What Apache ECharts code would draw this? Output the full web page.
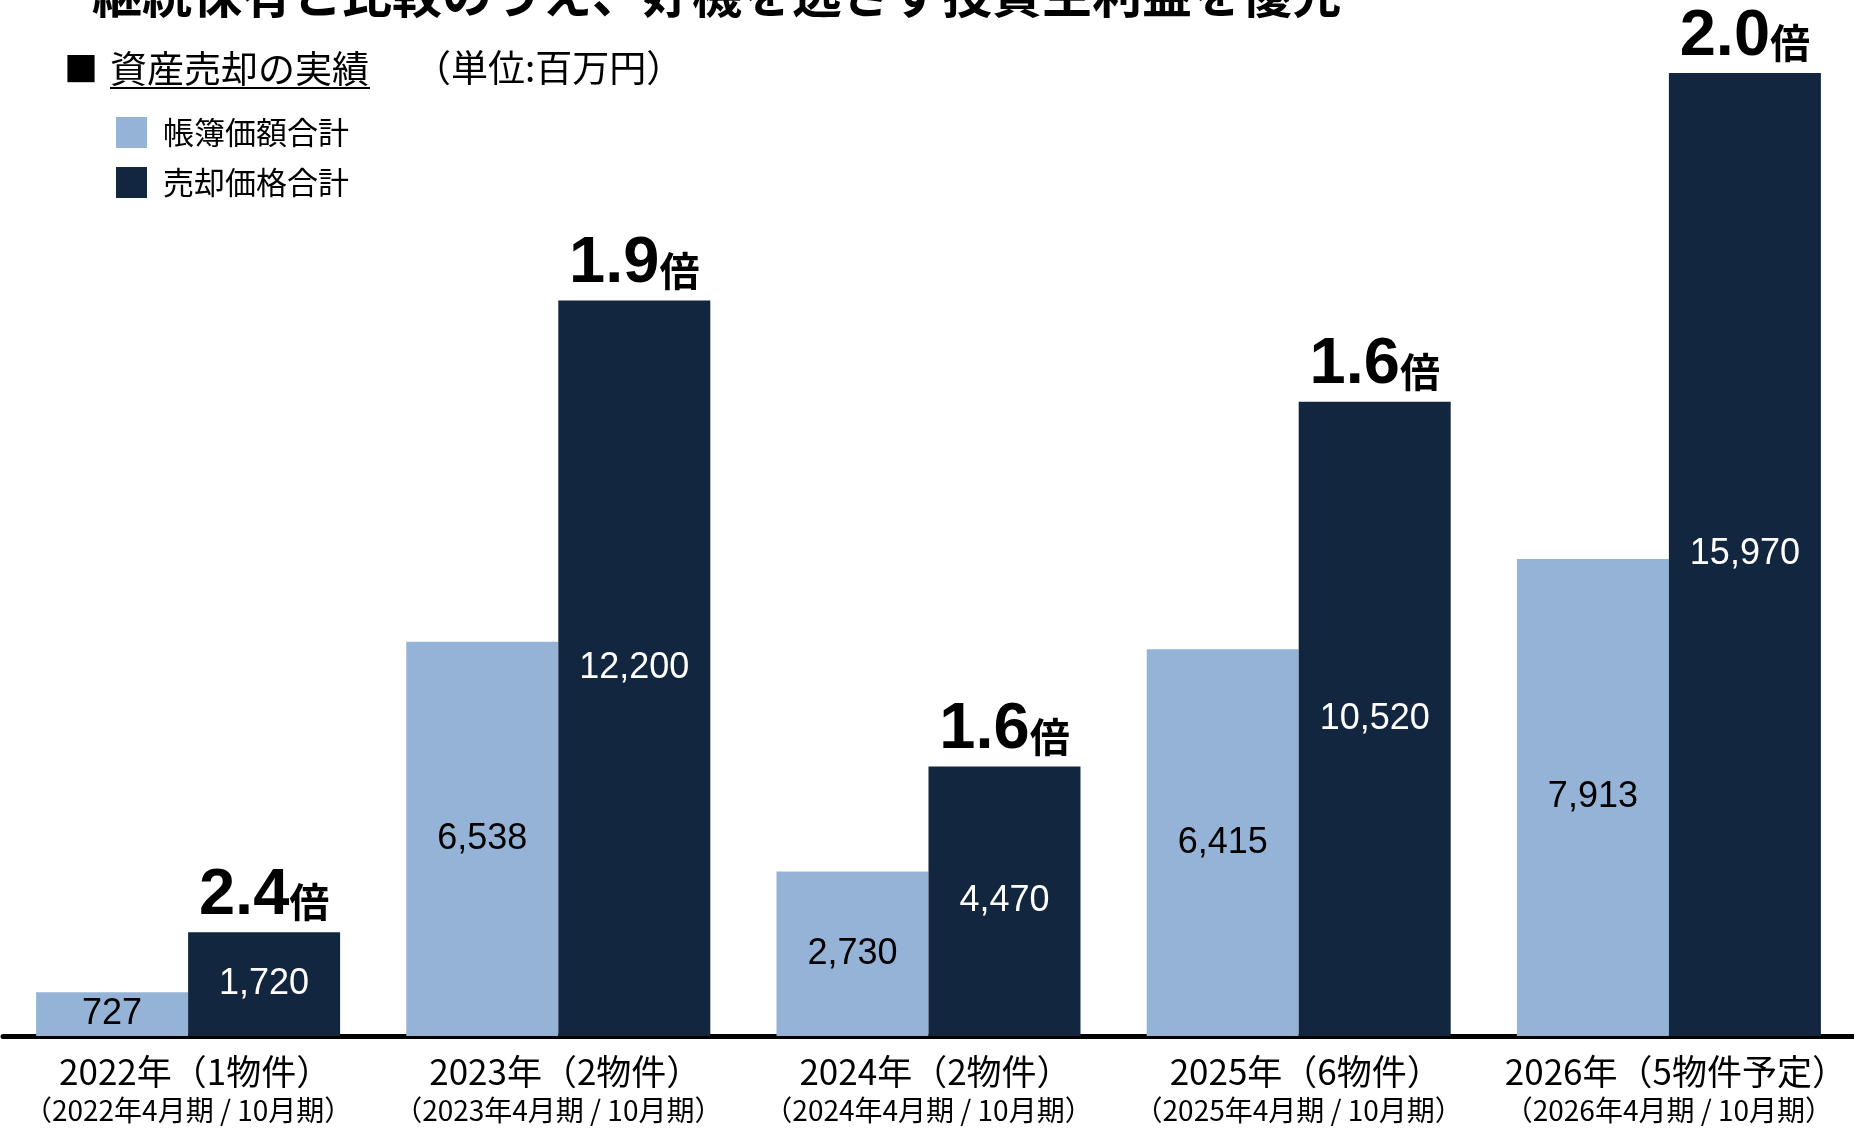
<!DOCTYPE html>
<html>
<head>
<meta charset="utf-8">
<title>資産売却の実績</title>
<script src="https://cdn.jsdelivr.net/npm/echarts@6/dist/echarts.min.js"></script>
<style>
  html, body { margin: 0; padding: 0; background: #ffffff; }
  #chart { width: 1854px; height: 1129px; }
</style>
</head>
<body>
<div id="chart"></div>
<script>
// Asset sales track record (unit: million yen)
const yearLabels = ['2022年（1物件）', '2023年（2物件）', '2024年（2物件）', '2025年（6物件）', '2026年（5物件予定）'];
const periodLabels = ['（2022年4月期 / 10月期）', '（2023年4月期 / 10月期）', '（2024年4月期 / 10月期）', '（2025年4月期 / 10月期）', '（2026年4月期 / 10月期）'];
const bookValues = [727, 6538, 2730, 6415, 7913];      // 帳簿価額合計
const saleValues = [1720, 12200, 4470, 10520, 15970];  // 売却価格合計
const multiples = ['2.4', '1.9', '1.6', '1.6', '2.0']; // 売却価格 / 帳簿価額

const LIGHT = '#95B3D7';
const DARK = '#12263F';
const LATIN = '"Liberation Sans", Arial, "Noto Sans CJK JP", sans-serif';
const CJK = '"Noto Sans CJK JP", "Liberation Sans", sans-serif';
const BAR_W = 152;

const fmt = v => v.toLocaleString('en-US');

const chart = echarts.init(document.getElementById('chart'), null, { renderer: 'canvas' });

chart.setOption({
  backgroundColor: '#ffffff',
  animation: false,
  grid: { left: 3, right: 0, top: 11, bottom: 93, containLabel: false },
  legend: {
    orient: 'vertical',
    left: 116,
    top: 117,
    padding: 0,
    itemWidth: 31,
    itemHeight: 31,
    itemGap: 19,
    icon: 'rect',
    selectedMode: false,
    data: ['帳簿価額合計', '売却価格合計'],
    textStyle: { fontFamily: CJK, fontSize: 31, color: '#000', padding: [4, 0, 0, 11] }
  },
  graphic: [
    {
      type: 'text', left: 92, top: -31,
      style: { text: '継続保有と比較のうえ、好機を逃さず投資主利益を優先', font: 'bold 50px ' + CJK, fill: '#000' }
    },
    {
      type: 'text', left: 64, top: 52,
      style: { text: '■', font: '34px ' + CJK, fill: '#000' }
    },
    {
      type: 'text', left: 110, top: 50,
      style: { text: '資産売却の実績', font: '37px ' + CJK, fill: '#000' }
    },
    {
      type: 'line', shape: { x1: 110, y1: 88, x2: 370, y2: 88 },
      style: { stroke: '#000', lineWidth: 2 }
    },
    {
      type: 'text', left: 414, top: 49,
      style: { text: '（単位:百万円）', font: '37px ' + CJK, fill: '#000' }
    }
  ],
  xAxis: {
    type: 'category',
    data: yearLabels,
    axisTick: { show: false },
    axisLine: { show: true, lineStyle: { color: '#000', width: 5 } },
    axisLabel: {
      interval: 0,
      margin: 15,
      formatter: (v, i) => '{a|' + v + '}\n{b|' + periodLabels[i] + '}',
      rich: {
        a: { fontFamily: CJK, fontSize: 35, lineHeight: 41, color: '#000', padding: [0, 0, 0, 14] },
        b: { fontFamily: CJK, fontSize: 28, lineHeight: 36, color: '#000' }
      }
    }
  },
  yAxis: {
    type: 'value',
    min: 0,
    max: 17000,
    show: false,
    splitLine: { show: false }
  },
  series: [
    {
      name: '帳簿価額合計',
      type: 'bar',
      data: bookValues,
      barWidth: BAR_W,
      barGap: '0%',
      itemStyle: { color: LIGHT },
      label: {
        show: true, position: 'inside',
        formatter: p => fmt(p.value),
        fontFamily: LATIN, fontSize: 36, color: '#000'
      }
    },
    {
      name: '売却価格合計',
      type: 'bar',
      data: saleValues,
      barWidth: BAR_W,
      barGap: '0%',
      itemStyle: { color: DARK },
      label: {
        show: true, position: 'inside',
        formatter: p => fmt(p.value),
        fontFamily: LATIN, fontSize: 36, color: '#fff'
      }
    },
    {
      // ratio label placed above each sale-price bar
      type: 'scatter',
      data: saleValues,
      symbolSize: 0,
      itemStyle: { color: '#000', opacity: 1 },
      silent: true,
      label: {
        show: true,
        position: 'top',
        distance: 4,
        offset: [BAR_W / 2, 0],
        color: '#000',
        opacity: 1,
        textBorderWidth: 0,
        formatter: p => '{n|' + multiples[p.dataIndex] + '}{u|倍}',
        rich: {
          n: { fontFamily: LATIN, fontWeight: 'bold', fontSize: 65, lineHeight: 64, color: '#000', verticalAlign: 'bottom' },
          u: { fontFamily: CJK, fontWeight: 'bold', fontSize: 40, lineHeight: 64, color: '#000', verticalAlign: 'bottom', padding: [0, 0, 6, 0] }
        }
      }
    }
  ]
});
</script>
</body>
</html>
